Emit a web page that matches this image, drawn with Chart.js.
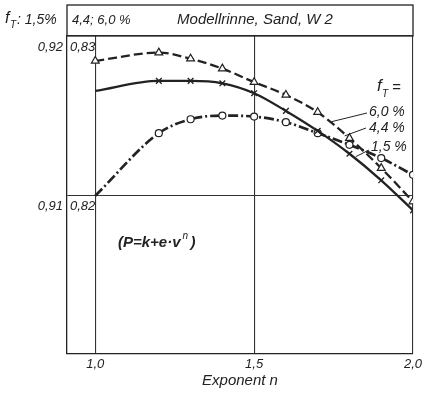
<!DOCTYPE html>
<html>
<head>
<meta charset="utf-8">
<script src="https://cdn.jsdelivr.net/npm/chart.js@4/dist/chart.umd.min.js"></script>
<style>
  body { margin: 0; background: #fff; }
  #wrap { width: 432px; height: 403px; }
</style>
</head>
<body>
<div id="wrap"><canvas id="rinneChart"></canvas></div>
<script>
// exponent n (x axis)
var exponents = [1.0, 1.2, 1.3, 1.4, 1.5, 1.6, 1.7, 1.8, 1.9, 2.0];
// values; 4,4 % and 6,0 % use the inner scale (0,82..0,83)
var fT60 = [0.82844, 0.82896, 0.82858, 0.82796, 0.82711, 0.82631, 0.82523, 0.82361, 0.82173, 0.81964];
var fT44 = [0.82656, 0.82719, 0.82719, 0.82704, 0.82642, 0.82531, 0.82406, 0.82263, 0.82097, 0.81909];
// 1,5 % uses the outer scale (0,91..0,92)
var fT15 = [0.91000, 0.91392, 0.91479, 0.91502, 0.91496, 0.91461, 0.91392, 0.91319, 0.91236, 0.91131];

var xTicks = [1.0, 1.5, 2.0];
var outerTicks = [0.91, 0.92];
var innerTicks = [0.82, 0.83];

var ink = '#222';
var fontFam = "'Liberation Sans', Arial, sans-serif";

function pts(ys) {
    return exponents.map(function(x, i) { return { x: x, y: ys[i] }; });
}
function comma(v, d) {
    return Number(v).toFixed(d).replace('.', ',');
}

var annotations = {
    id: 'annotations',
    afterDraw: function(chart) {
        var c = chart.ctx, a = chart.chartArea;
        var xs = chart.scales.x, y2 = chart.scales.y2;
        c.save();
        c.strokeStyle = ink;
        c.fillStyle = ink;
        // header box
        c.lineWidth = 1.3;
        c.strokeRect(a.left, 5, a.right - a.left, a.top - 5);
        c.textBaseline = 'middle';
        c.font = 'italic 13px ' + fontFam;
        c.textAlign = 'left';
        c.fillText('4,4; 6,0 %', a.left + 5, 20);
        c.textAlign = 'center';
        c.font = 'italic 15px ' + fontFam;
        c.fillText('Modellrinne, Sand, W 2', 255, 20);
        // outer header label f_T: 1,5%
        c.textAlign = 'left';
        c.font = 'italic 16px ' + fontFam;
        c.fillText('f', 5, 19);
        c.font = 'italic 10px ' + fontFam;
        c.fillText('T', 10, 25);
        c.font = 'italic 14px ' + fontFam;
        c.fillText(': 1,5%', 17, 20);

        // formula
        c.font = 'italic bold 15px ' + fontFam;
        c.fillText('(P=k+e\u00b7v', 118, 243);
        var w = c.measureText('(P=k+e\u00b7v').width;
        c.font = 'italic 10px ' + fontFam;
        c.fillText('n', 118 + w + 2, 236);
        c.font = 'italic bold 15px ' + fontFam;
        c.fillText(')', 118 + w + 10, 243);

        // legend on right
        c.font = 'italic 17px ' + fontFam;
        c.fillText('f', 377, 86);
        c.font = 'italic 10px ' + fontFam;
        c.fillText('T', 382, 94);
        c.font = 'italic 15px ' + fontFam;
        c.fillText('=', 392, 88);
        c.font = 'italic 14px ' + fontFam;
        c.fillText('6,0 %', 369, 112);
        c.fillText('4,4 %', 369, 128);
        c.fillText('1,5 %', 371, 147);

        // leader lines
        c.lineWidth = 1;
        c.beginPath();
        c.moveTo(367, 113);
        c.lineTo(xs.getPixelForValue(1.744), y2.getPixelForValue(0.82464));
        c.moveTo(366, 128);
        c.lineTo(xs.getPixelForValue(1.785), y2.getPixelForValue(0.82375));
        c.moveTo(369, 150);
        c.lineTo(xs.getPixelForValue(1.82), y2.getPixelForValue(0.82245));
        c.stroke();
        c.restore();
    }
};

var ctx = document.getElementById('rinneChart').getContext('2d');
var rinneChart = new Chart(ctx, {
    type: 'line',
    data: {
        datasets: [{
            label: '6,0 %',
            data: pts(fT60),
            yAxisID: 'y2',
            borderColor: ink,
            borderWidth: 2.3,
            borderDash: [9, 4],
            pointStyle: 'triangle',
            pointRadius: 4.5,
            pointBackgroundColor: '#fff',
            pointBorderColor: ink,
            pointBorderWidth: 1.2,
            cubicInterpolationMode: 'monotone',
            fill: false
        }, {
            label: '4,4 %',
            data: pts(fT44),
            yAxisID: 'y2',
            borderColor: ink,
            borderWidth: 2.3,
            pointStyle: 'crossRot',
            pointRadius: [0, 4, 4, 4, 4, 4, 4, 4, 4, 4],
            pointBorderColor: ink,
            pointBorderWidth: 1.4,
            cubicInterpolationMode: 'monotone',
            fill: false
        }, {
            label: '1,5 %',
            data: pts(fT15),
            yAxisID: 'y',
            borderColor: ink,
            borderWidth: 2.7,
            borderDash: [10, 3, 2, 3],
            pointStyle: 'circle',
            pointRadius: [0, 3.5, 3.5, 3.5, 3.5, 3.5, 3.5, 3.5, 3.5, 3.5],
            pointBackgroundColor: '#fff',
            pointBorderColor: ink,
            pointBorderWidth: 1.2,
            cubicInterpolationMode: 'monotone',
            fill: false
        }]
    },
    options: {
        responsive: true,
        maintainAspectRatio: false,
        animation: false,
        layout: { padding: { top: 36, right: 19, left: 0, bottom: 0 } },
        plugins: {
            legend: { display: false },
            tooltip: { enabled: false }
        },
        scales: {
            x: {
                type: 'linear',
                min: 0.911,
                max: 2.0,
                afterBuildTicks: function(s) { s.ticks = xTicks.map(function(v) { return { value: v }; }); },
                afterFit: function(s) { s.height = 49; },
                ticks: {
                    padding: 3,
                    color: ink,
                    font: { family: fontFam, size: 13, style: 'italic' },
                    callback: function(v) { return comma(v, 1); }
                },
                grid: { color: '#333', lineWidth: 1.1, drawTicks: false },
                border: { color: ink, width: 1.3 },
                title: {
                    display: true,
                    text: 'Exponent n',
                    color: ink,
                    font: { family: fontFam, size: 15, style: 'italic' },
                    padding: { top: 0, bottom: 13 }
                }
            },
            y: {
                position: 'left',
                weight: 1,
                min: 0.9001,
                max: 0.92,
                afterBuildTicks: function(s) { s.ticks = outerTicks.map(function(v) { return { value: v }; }); },
                afterFit: function(s) { s.width = 67; },
                ticks: {
                    padding: 4,
                    labelOffset: 11,
                    color: ink,
                    font: { family: fontFam, size: 13, style: 'italic' },
                    callback: function(v) { return comma(v, 2); }
                },
                grid: { color: '#333', lineWidth: 1.1, drawTicks: false },
                border: { color: ink, width: 1.3 }
            },
            y2: {
                position: 'left',
                weight: 0,
                min: 0.8101,
                max: 0.83,
                afterBuildTicks: function(s) { s.ticks = innerTicks.map(function(v) { return { value: v }; }); },
                afterFit: function(s) { s.width = 0; },
                ticks: {
                    mirror: true,
                    padding: 3,
                    labelOffset: 11,
                    color: ink,
                    font: { family: fontFam, size: 13, style: 'italic' },
                    callback: function(v) { return comma(v, 2); }
                },
                grid: { display: false, drawTicks: false },
                border: { display: false }
            }
        }
    },
    plugins: [annotations]
});
</script>
</body>
</html>
